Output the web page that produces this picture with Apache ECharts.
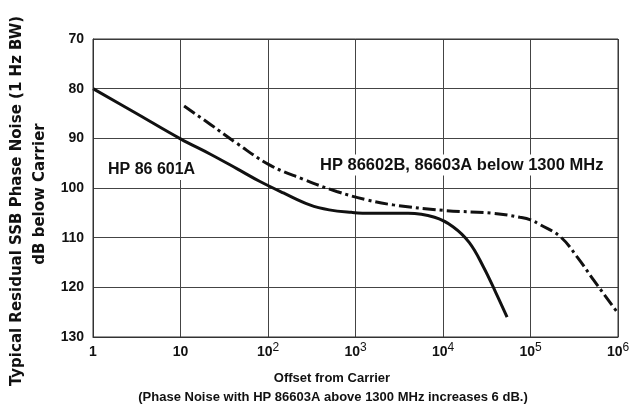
<!DOCTYPE html>
<html>
<head>
<meta charset="utf-8">
<script src="https://cdn.jsdelivr.net/npm/echarts@6/dist/echarts.min.js"></script>
<style>
html,body{margin:0;padding:0;background:#fff;}
#chart{width:636px;height:409px;}
</style>
</head>
<body>
<div id="chart"></div>
<script>
// Offset from carrier (Hz) and SSB phase noise (dB below carrier)
const offsetsA = [1, 3, 10, 22, 44, 81, 150, 300, 500, 900, 1500, 4000, 8000, 13000, 20000, 29000, 40000, 54000];
const noiseA   = [80, 84.8, 90.1, 93.2, 96.1, 98.7, 101.0, 103.4, 104.4, 104.9, 105.1, 105.1, 105.9, 107.8, 111, 115.9, 121, 126];
const offsetsB = [11, 22, 44, 105, 250, 610, 1350, 2700, 10000, 37600, 76000, 100000, 129000, 219000, 339000, 525000, 933000, 1000000];
const noiseB   = [83.5, 87.2, 91.0, 95.4, 98.2, 100.7, 102.4, 103.4, 104.5, 105.1, 105.9, 106.4, 107.4, 109.8, 113.8, 118.5, 124.5, 125.2];
const seriesNames = ['HP 86 601A', 'HP 86602B, 86603A below 1300 MHz'];
const xTickBase = ['1', '10', '10', '10', '10', '10', '10'];
const xTickExp  = ['', '', '2', '3', '4', '5', '6'];
const yTicks = [70, 80, 90, 100, 110, 120, 130];
const yTitle = ['Typical Residual SSB Phase Noise (1 Hz BW)', 'dB below Carrier'];
const xTitle = ['Offset from Carrier', '(Phase Noise with HP 86603A above 1300 MHz increases 6 dB.)'];

const FONT = '"Liberation Sans", Arial, sans-serif';
const WIDE = '"DejaVu Sans", Verdana, sans-serif';
const chart = echarts.init(document.getElementById('chart'));
const pairs = (xs, ys) => xs.map((x, i) => [x, ys[i]]);

chart.setOption({
  animation: false,
  backgroundColor: '#fff',
  grid: { left: 93, right: 18, top: 39, bottom: 72, containLabel: false },
  xAxis: {
    type: 'log', logBase: 10, min: 1, max: 1000000,
    axisLine: { show: true, lineStyle: { color: '#333', width: 1 } },
    axisTick: { show: false },
    minorTick: { show: false },
    splitLine: { show: true, lineStyle: { color: '#444', width: 1 } },
    axisLabel: {
      margin: 5,
      formatter: function (v) {
        const i = Math.round(Math.log10(v));
        const e = xTickExp[i];
        return e ? '{b|' + xTickBase[i] + '}{s|' + e + '}' : '{b|' + xTickBase[i] + '}';
      },
      rich: {
        b: { fontSize: 14, fontWeight: 'bold', fontFamily: FONT, color: '#111', lineHeight: 17, verticalAlign: 'bottom' },
        s: { fontSize: 12, fontFamily: FONT, color: '#111', verticalAlign: 'top', lineHeight: 17 }
      }
    }
  },
  yAxis: {
    type: 'value', inverse: true, min: 70, max: 130, interval: 10,
    axisLine: { show: true, lineStyle: { color: '#333', width: 1 } },
    axisTick: { show: false },
    splitLine: { show: true, lineStyle: { color: '#444', width: 1 } },
    axisLabel: { fontSize: 14, fontWeight: 'bold', fontFamily: FONT, color: '#111', margin: 9,
      formatter: v => yTicks.includes(v) ? String(v) : '' }
  },
  graphic: [
    { type: 'rect', shape: { x: 93, y: 39, width: 525, height: 298 }, style: { fill: 'none', stroke: '#333', lineWidth: 1 }, z: 10, silent: true },
    { type: 'text', x: 17, y: 201, rotation: Math.PI / 2, style: { text: yTitle[0], font: 'bold 15px ' + WIDE, fill: '#111', align: 'center', verticalAlign: 'middle' } },
    { type: 'text', x: 40, y: 194, rotation: Math.PI / 2, style: { text: yTitle[1], font: 'bold 15px ' + WIDE, fill: '#111', align: 'center', verticalAlign: 'middle' } },
    { type: 'text', x: 332, y: 378, style: { text: xTitle[0], font: 'bold 13px ' + FONT, fill: '#111', align: 'center', verticalAlign: 'middle' } },
    { type: 'text', x: 333, y: 397, style: { text: xTitle[1], font: 'bold 13px ' + FONT, fill: '#111', align: 'center', verticalAlign: 'middle' } },
    { type: 'text', x: 106, y: 170, z: 20, style: { text: seriesNames[0], font: 'bold 16px ' + FONT, fill: '#111', align: 'left', verticalAlign: 'middle', backgroundColor: '#fff', padding: [2, 2] } },
    { type: 'text', x: 318, y: 165, z: 20, style: { text: seriesNames[1], font: 'bold 16.5px ' + FONT, fill: '#111', align: 'left', verticalAlign: 'middle', backgroundColor: '#fff', padding: [2, 2] } }
  ],
  series: [
    { name: seriesNames[0], type: 'line', smooth: 0.4, showSymbol: false, z: 5,
      data: pairs(offsetsA, noiseA),
      lineStyle: { color: '#111', width: 3, type: 'solid' } },
    { name: seriesNames[1], type: 'line', smooth: 0.4, showSymbol: false, z: 5,
      data: pairs(offsetsB, noiseB),
      lineStyle: { color: '#111', width: 3, type: [13, 4, 3, 4] } }
  ]
});
</script>
</body>
</html>
